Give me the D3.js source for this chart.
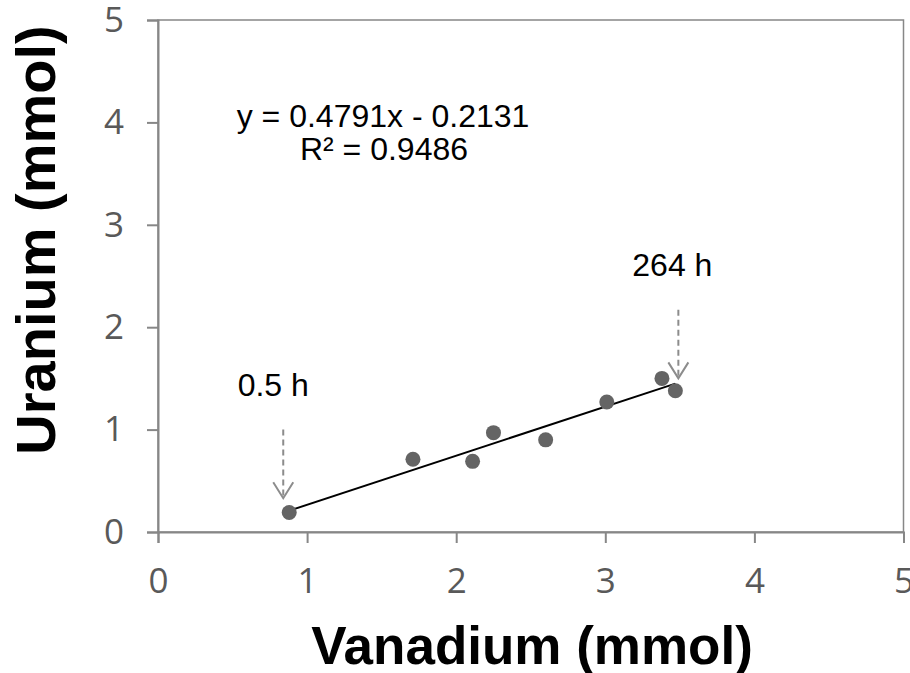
<!DOCTYPE html>
<html><head><meta charset="utf-8">
<script src="https://cdn.jsdelivr.net/npm/d3@7"></script>
<style>body{margin:0;background:#fff}svg{display:block}</style>
</head><body>
<script>
const vanadium = [0.88, 1.71, 2.11, 2.25, 2.60, 3.01, 3.38, 3.47];
const uranium  = [0.19, 0.71, 0.69, 0.97, 0.90, 1.27, 1.50, 1.38];
const xTicks = [0, 1, 2, 3, 4, 5];
const yTicks = [0, 1, 2, 3, 4, 5];
const slope = 0.4791, intercept = -0.2131;
const eqLines = ["y = 0.4791x - 0.2131", "R\u00B2 = 0.9486"];
const annotations = [{label: "0.5 h", x: 0.84, yTop: 1.0, yBot: 0.33}, {label: "264 h", x: 3.49, yTop: 2.17, yBot: 1.5}];

const W = 910, H = 673;
const m = {left: 158, right: 910 - 903.5, top: 20, bottom: 673 - 532};
const svg = d3.select("body").append("svg").attr("width", W).attr("height", H);
const x = d3.scaleLinear().domain([0, 5]).range([m.left, W - m.right]);
const y = d3.scaleLinear().domain([0, 5]).range([H - m.bottom, m.top]);
const axisColor = "#878787", tickText = "#595959";

// box
svg.append("rect").attr("x", x(0)).attr("y", y(5)).attr("width", x(5) - x(0)).attr("height", y(0) - y(5))
  .attr("fill", "none").attr("stroke", axisColor).attr("stroke-width", 1.5);

const xAxis = svg.append("g").attr("transform", `translate(0,${y(0)})`)
  .call(d3.axisBottom(x).tickValues(xTicks).tickFormat(d3.format("d")).tickSize(11).tickPadding(25));
const yAxis = svg.append("g").attr("transform", `translate(${x(0)},0)`)
  .call(d3.axisLeft(y).tickValues(yTicks).tickFormat(d3.format("d")).tickSize(11).tickPadding(23));
[xAxis, yAxis].forEach(g => {
  g.selectAll("path").attr("stroke", axisColor).attr("stroke-width", 2);
  g.selectAll("line").attr("stroke", axisColor).attr("stroke-width", 2);
  g.selectAll("text").attr("fill", tickText).style("font-family", "'Open Sans', sans-serif").style("font-size", "35px");
});

// trendline
const x0 = d3.min(vanadium), x1 = d3.max(vanadium);
svg.append("line").attr("x1", x(x0)).attr("y1", y(slope * x0 + intercept))
  .attr("x2", x(x1)).attr("y2", y(slope * x1 + intercept))
  .attr("stroke", "#000").attr("stroke-width", 2);

// points
svg.selectAll("circle.pt").data(vanadium).enter().append("circle")
  .attr("cx", d => x(d)).attr("cy", (d, i) => y(uranium[i])).attr("r", 7.5).attr("fill", "#646464");

// equation
const eq = svg.append("text").attr("text-anchor", "middle").style("font-family", "'Liberation Sans', Arial, sans-serif")
  .style("font-size", "32px").attr("fill", "#000");
eq.append("tspan").attr("x", 383).attr("y", 127).text(eqLines[0]);
eq.append("tspan").attr("x", 384).attr("y", 160).text(eqLines[1]);

// annotations
annotations.forEach((a, i) => {
  const ax = x(a.x);
  svg.append("line").attr("x1", ax).attr("x2", ax).attr("y1", y(a.yTop)).attr("y2", y(a.yBot))
    .attr("stroke", "#8c8c8c").attr("stroke-width", 2).attr("stroke-dasharray", "6,4");
  const yb = y(a.yBot);
  svg.append("path").attr("d", `M${ax - 10},${yb - 16} L${ax},${yb} L${ax + 10},${yb - 16}`)
    .attr("fill", "none").attr("stroke", "#8c8c8c").attr("stroke-width", 2);
  svg.append("text").attr("x", ax + (i === 0 ? -10 : -6)).attr("y", y(a.yTop) - 34).attr("text-anchor", "middle")
    .style("font-family", "'Liberation Sans', Arial, sans-serif").style("font-size", "32px").text(a.label);
});

// titles
svg.append("text").attr("x", 532).attr("y", 664).attr("text-anchor", "middle")
  .style("font-family", "'Liberation Sans', Arial, sans-serif").style("font-weight", "bold").style("font-size", "53px")
  .text("Vanadium (mmol)");
svg.append("text").attr("transform", "translate(55,240) rotate(-90)").attr("text-anchor", "middle")
  .style("font-family", "'Liberation Sans', Arial, sans-serif").style("font-weight", "bold").style("font-size", "56px")
  .text("Uranium (mmol)");
</script>
</body></html>
